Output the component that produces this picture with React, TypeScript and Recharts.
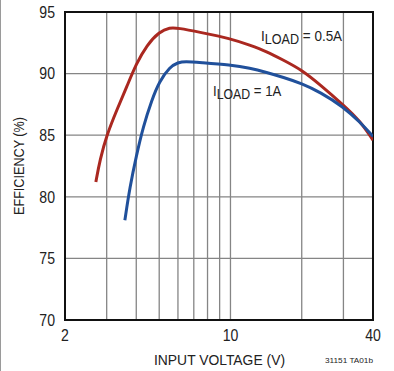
import React from 'react';
import { LineChart, Line, XAxis, YAxis, CartesianGrid, ReferenceArea } from 'recharts';

const xTicks = [2, 3, 4, 5, 6, 7, 8, 9, 10, 20, 30, 40];
const xLabeled = [2, 10, 40];
const yTicks = [70, 75, 80, 85, 90, 95];

// I_LOAD = 0.5A
const load05V = [2.7, 2.81, 3.0, 3.31, 3.65, 4.0, 4.43, 5.0, 5.55, 6.0, 7.44, 10, 12.1, 14.2, 16.7, 20, 23.9, 30, 35.3, 40];
const load05Eff = [81.2, 83.0, 85.0, 87.05, 88.95, 90.8, 92.3, 93.4, 93.75, 93.7, 93.35, 92.85, 92.3, 91.8, 91.1, 90.3, 89.1, 87.45, 86.15, 84.6];

// I_LOAD = 1A
const load1V = [3.58, 3.76, 4.0, 4.28, 4.65, 5.0, 5.55, 6.0, 6.43, 7.44, 10, 12.1, 14.2, 16.7, 20, 23.9, 30, 35.3, 40];
const load1Eff = [78.1, 80.8, 83.3, 85.7, 87.85, 89.35, 90.55, 90.9, 91.0, 90.9, 90.7, 90.45, 90.1, 89.7, 89.2, 88.5, 87.3, 86.05, 84.9];

const font = "'Liberation Sans', Arial, sans-serif";

const load05 = load05V.map((v, i) => ({ v, eff: load05Eff[i] }));
const load1 = load1V.map((v, i) => ({ v, eff: load1Eff[i] }));

const XTick = (props: any) => {
  const { x, y, payload } = props;
  if (!xLabeled.includes(payload.value)) return null;
  return (
    <g transform={`translate(${x},${y}) scale(0.88,1)`}>
      <text x={0} y={0} dy="0.71em" textAnchor="middle" fontSize={16} fontFamily={font} fill="#222">
        {payload.value}
      </text>
    </g>
  );
};

const YTick = (props: any) => {
  const { x, y, payload } = props;
  return (
    <g transform={`translate(${x},${y}) scale(0.88,1)`}>
      <text x={0} y={0} dy="0.36em" textAnchor="end" fontSize={16} fontFamily={font} fill="#222">
        {payload.value}
      </text>
    </g>
  );
};

export default function App() {
  return (
    <div style={{ position: 'absolute', left: 0, top: 0, width: 394, height: 371, background: '#fff' }}>
      <div style={{ position: 'absolute', left: 0, top: 0, width: 1, height: 371, background: '#9a9a9a' }} />
      <LineChart width={394} height={371} margin={{ top: 12, right: 21, left: 0, bottom: 0 }}>
        <CartesianGrid stroke="#858585" strokeWidth={1.3} />
        <XAxis
          dataKey="v"
          type="number"
          scale="log"
          domain={[2, 40]}
          ticks={xTicks}
          interval={0}
          allowDataOverflow
          tickLine={false}
          axisLine={{ stroke: '#111', strokeWidth: 2 }}
          tick={<XTick />}
          tickMargin={4}
          height={51}
        />
        <YAxis
          type="number"
          domain={[70, 95]}
          ticks={yTicks}
          interval={0}
          tickLine={false}
          axisLine={{ stroke: '#111', strokeWidth: 2 }}
          tick={<YTick />}
          tickMargin={4}
          width={65}
        />
        <ReferenceArea x1={2} x2={40} y1={70} y2={95} fill="none" stroke="#111" strokeWidth={2} />
        <Line data={load05} dataKey="eff" type="basis" stroke="#aa2820" strokeWidth={3} dot={false} isAnimationActive={false} />
        <Line data={load1} dataKey="eff" type="basis" stroke="#20509b" strokeWidth={3} dot={false} isAnimationActive={false} />
        <g transform="translate(261,40.5) scale(0.9,1)">
          <text x={0} y={0} fontSize={15} fontFamily={font} fill="#222">
            I<tspan dy={3} fontSize={14}>LOAD</tspan>
            <tspan dy={-3}> = 0.5A</tspan>
          </text>
        </g>
        <g transform="translate(213,96) scale(0.88,1)">
          <text x={0} y={0} fontSize={15} fontFamily={font} fill="#222">
            I<tspan dy={3} fontSize={14}>LOAD</tspan>
            <tspan dy={-3}> = 1A</tspan>
          </text>
        </g>
        <text x={154} y={365} textLength={131} lengthAdjust="spacingAndGlyphs" fontSize={15} fontFamily={font} fill="#222">
          INPUT VOLTAGE (V)
        </text>
        <text x={325} y={363} textLength={48} lengthAdjust="spacingAndGlyphs" fontSize={8} fontFamily={font} fill="#222">
          31151 TA01b
        </text>
        <g transform="translate(24,166) rotate(-90)">
          <text x={-49} y={0} textLength={98} lengthAdjust="spacingAndGlyphs" fontSize={15} fontFamily={font} fill="#222">
            EFFICIENCY (%)
          </text>
        </g>
      </LineChart>
    </div>
  );
}
